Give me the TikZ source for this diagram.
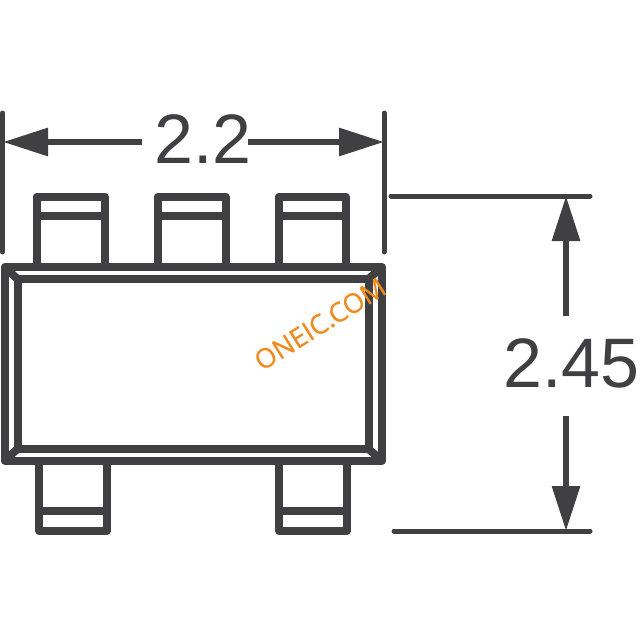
\documentclass[tikz,border=0pt]{standalone}
\usepackage{fontspec}
\setmainfont{Liberation Sans}
\newfontfamily\markfont[FakeBold=0.5]{Open Sans}
\usetikzlibrary{arrows.meta}
\definecolor{inkgrey}{HTML}{404042}
\definecolor{markorange}{HTML}{F08A1D}
\tikzstyle{outline} = [draw=inkgrey, line width=8pt, line join=round]
\tikzstyle{extline} = [draw=inkgrey, line width=5pt, line cap=round]
\tikzstyle{arrow} = [draw=inkgrey, line width=6pt, -{Triangle[length=45pt,width=27pt,color=inkgrey]}]
\tikzstyle{dimtext} = [text=inkgrey, font=\fontsize{70}{70}\selectfont, inner sep=0pt]
\tikzstyle{watermark} = [text=markorange, font=\markfont\fontsize{27}{27}\selectfont, inner sep=0pt, rotate=32]

\begin{document}
\begin{tikzpicture}[x=1pt,y=-1pt]
            \useasboundingbox (0,0) rectangle (640,640);

            % pins
            \draw [outline] (36.5,267) |- (104.5,196.5) -- (104.5,267);
            \draw [outline] (36.5,215.5) -- (104.5,215.5);
            \draw [outline] (157.5,267) |- (225.5,196.5) -- (225.5,267);
            \draw [outline] (157.5,215.5) -- (225.5,215.5);
            \draw [outline] (278.5,267) |- (346,196.5) -- (346,267);
            \draw [outline] (278.5,215.5) -- (346,215.5);
            \draw [outline] (39,460) |- (107,530.5) -- (107,460);
            \draw [outline] (39,510.5) -- (107,510.5);
            \draw [outline] (279,460) |- (347,530.5) -- (347,460);
            \draw [outline] (279,510.5) -- (347,510.5);

            % body
            \draw [outline] (4.5,267) rectangle (382,460.5);
            \draw [outline] (17.5,279) rectangle (368.5,449);
            \draw [outline] (4.5,267) -- (17.5,279);
            \draw [outline] (382,267) -- (368.5,279);
            \draw [outline] (4.5,460.5) -- (17.5,449);
            \draw [outline] (382,460.5) -- (368.5,449);

            % extension lines
            \draw [extline] (2.5,113) -- (2.5,252);
            \draw [extline] (384,113) -- (384,252);
            \draw [extline] (391,196) -- (590,196);
            \draw [extline] (394,531) -- (590,531);

            % dimensions
            \node [dimtext] at (203,139) (width) {2.2};
            \node [dimtext] at (571.5,363) (height) {2.45};
            \coordinate (widthL) at (3,142);
            \coordinate (widthR) at (384,142);
            \coordinate (heightT) at (566,196);
            \coordinate (heightB) at (566,531);
            \coordinate (widthLs) at (142,142);
            \coordinate (widthRs) at (248,142);
            \coordinate (heightTs) at (566,316);
            \coordinate (heightBs) at (566,416);

            \draw [arrow] (widthLs) -- (widthL);
            \draw [arrow] (widthRs) -- (widthR);
            \draw [arrow] (heightTs) -- (heightT);
            \draw [arrow] (heightBs) -- (heightB);

            \node [watermark] at (320,324) (mark) {ONEIC.COM};
            \end{tikzpicture}
\end{document}
